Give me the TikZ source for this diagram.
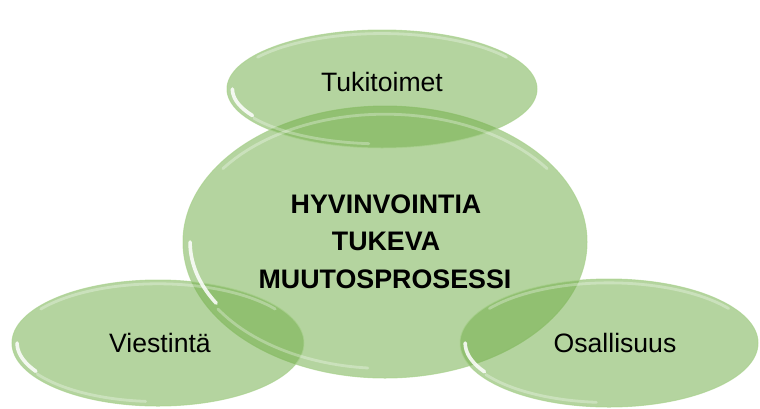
\documentclass[tikz,border=0pt]{standalone}
\usepackage{fontspec}
\setmainfont{Liberation Sans}
\usetikzlibrary{shapes.geometric}
\definecolor{leaf}{HTML}{70AD47}
\definecolor{rimc}{HTML}{A9D18E}
\tikzset{
  blob/.style={ellipse, fill=leaf, fill opacity=0.52, draw=rimc, draw opacity=0.7, line width=0.5pt, inner sep=0pt},
  lbl/.style={font=\fontsize{13.3}{18.5}\selectfont, text=black, inner sep=0pt, anchor=base},
  blbl/.style={lbl, font=\fontsize{13.4}{18.5}\selectfont\bfseries},
  gloss/.style={white, opacity=0.85, line width=1.8pt, line cap=round},
  sheen/.style={white, opacity=0.3, line width=1.4pt, line cap=round}
}
\newcommand{\glossy}[4]{%
  \draw[gloss] plot[domain=150:180, samples=25] ({#1+0.965*#3*cos(\x)}, {#2+0.9*#4*sin(\x)});
  \draw[sheen] plot[domain=95:148, samples=30] ({#1+0.975*#3*cos(\x)}, {#2+0.93*#4*sin(\x)});
  \draw[sheen] plot[domain=215:325, samples=40] ({#1+0.98*#3*cos(\x)}, {#2+0.94*#4*sin(\x)});
}
\begin{document}
\begin{tikzpicture}[x=0.5pt,y=-0.5pt]
\useasboundingbox (0,0) rectangle (760,408);
\node[blob, minimum width=202pt, minimum height=136pt] (mid) at (385,242) {};
\node[blob, minimum width=155pt, minimum height=59pt] (top) at (382,89) {};
\node[blob, minimum width=146pt, minimum height=63pt] (left) at (158,343) {};
\node[blob, minimum width=149pt, minimum height=64pt] (right) at (609,343) {};
\glossy{385}{242}{202}{136}
\glossy{382}{89}{155}{59}
\glossy{158}{343}{146}{63}
\glossy{609}{343}{149}{64}
\node[lbl] (ttop) at (382,91) {Tukitoimet};
\node[lbl] (tleft) at (160,352) {Viestintä};
\node[lbl] (tright) at (615,352) {Osallisuus};
\node[blbl] (c1) at (386,213) {HYVINVOINTIA};
\node[blbl] (c2) at (386,250) {TUKEVA};
\node[blbl] (c3) at (385,288) {MUUTOSPROSESSI};
\end{tikzpicture}
\end{document}
